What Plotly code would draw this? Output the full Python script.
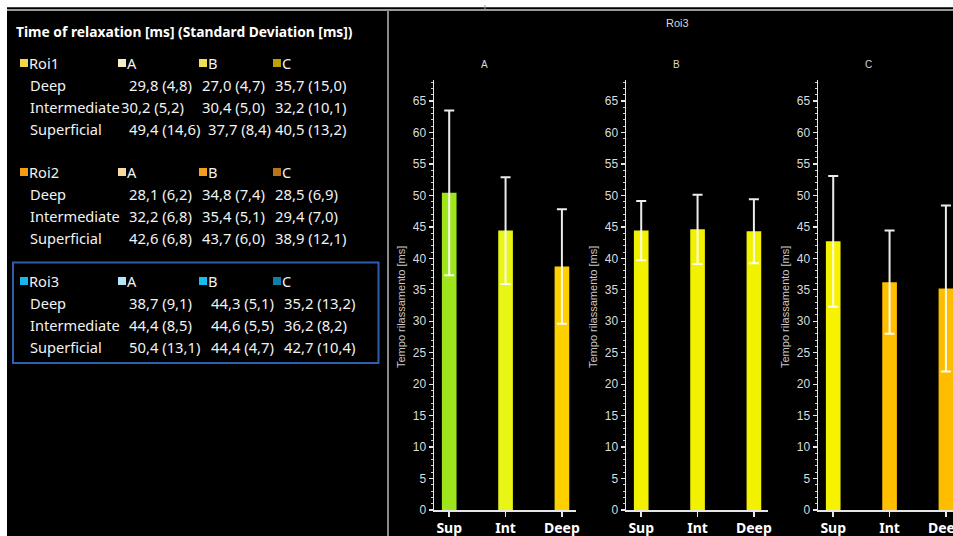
import plotly.graph_objects as go

# ---------------- data ----------------
rois = ["Roi1", "Roi2", "Roi3"]
groups = ["A", "B", "C"]
layers = ["Deep", "Intermediate", "Superficial"]

roi1_mean = [[29.8, 27.0, 35.7], [30.2, 30.4, 32.2], [49.4, 37.7, 40.5]]
roi1_sd = [[4.8, 4.7, 15.0], [5.2, 5.0, 10.1], [14.6, 8.4, 13.2]]
roi2_mean = [[28.1, 34.8, 28.5], [32.2, 35.4, 29.4], [42.6, 43.7, 38.9]]
roi2_sd = [[6.2, 7.4, 6.9], [6.8, 5.1, 7.0], [6.8, 6.0, 12.1]]
roi3_mean = [[38.7, 44.3, 35.2], [44.4, 44.6, 36.2], [50.4, 44.4, 42.7]]
roi3_sd = [[9.1, 5.1, 13.2], [8.5, 5.5, 8.2], [13.1, 4.7, 10.4]]

bar_categories = ["Sup", "Int", "Deep"]
bar_layers = ["Superficial", "Intermediate", "Deep"]
y_tick_values = [0, 5, 10, 15, 20, 25, 30, 35, 40, 45, 50, 55, 60, 65]

panel_title = "Time of relaxation [ms] (Standard Deviation [ms])"
chart_title = "Roi3"
y_title = "Tempo rilassamento [ms]"

# ---------------- styles ----------------
W, H = 953, 536
def px(x):
    return x / W
def py(y):
    return 1 - y / H

roi_colors = {"Roi1": "#f2d64b", "Roi2": "#f59b14", "Roi3": "#14b9ea"}
group_colors = {
    "Roi1": ["#f3eec4", "#f3df54", "#b9a106"],
    "Roi2": ["#f7dba3", "#f49d1f", "#b7741a"],
    "Roi3": ["#b3e6f6", "#12bff0", "#127fa6"],
}
bar_colors = {
    "A": ["#9fe51c", "#e9f514", "#ffd000"],
    "B": ["#f2f200", "#f2f200", "#f2f200"],
    "C": ["#f7f200", "#ffbf00", "#ffbd00"],
}

means = {"Roi1": roi1_mean, "Roi2": roi2_mean, "Roi3": roi3_mean}
sds = {"Roi1": roi1_sd, "Roi2": roi2_sd, "Roi3": roi3_sd}

def fmt(v):
    return f"{v:.1f}".replace(".", ",")

fig = go.Figure()
shapes = []
annotations = []

# ---------------- frame ----------------
shapes.append(dict(type="rect", xref="paper", yref="paper", x0=0, x1=1, y0=py(7), y1=1,
                   fillcolor="white", line_width=0, layer="above"))
shapes.append(dict(type="rect", xref="paper", yref="paper", x0=0, x1=px(7), y0=0, y1=1,
                   fillcolor="white", line_width=0, layer="above"))
shapes.append(dict(type="line", xref="paper", yref="paper", x0=px(7), x1=1, y0=py(7.5), y1=py(7.5),
                   line=dict(color="#404040", width=1)))
shapes.append(dict(type="line", xref="paper", yref="paper", x0=px(7), x1=1, y0=py(10), y1=py(10),
                   line=dict(color="#9a9a9a", width=2)))
shapes.append(dict(type="line", xref="paper", yref="paper", x0=px(388), x1=px(388), y0=0, y1=py(10),
                   line=dict(color="#8a8a8a", width=2)))
shapes.append(dict(type="line", xref="paper", yref="paper", x0=px(485), x1=px(485), y0=py(5), y1=py(10),
                   line=dict(color="#9a9a9a", width=1)))

# ---------------- left text panel ----------------
txt_font = dict(family="Noto Sans", size=14.6, color="#f2f2f2")
num_font = dict(family="Noto Sans", size=14.8, color="#f2f2f2")
annotations.append(dict(text=f"<b>{panel_title}</b>", x=px(14), y=py(31), xref="paper", yref="paper",
                        xanchor="left", yanchor="middle", showarrow=False,
                        font=dict(family="Noto Sans", size=13.8, color="#ffffff")))

block_header_y = {"Roi1": 63, "Roi2": 172, "Roi3": 281}
row_step = 22.3
header_sq_x = [118, 199, 273]
value_x = {
    "Roi1": [[128, 201, 274], [120, 201, 274], [128, 207, 274]],
    "Roi2": [[128, 201, 274], [128, 201, 274], [128, 201, 274]],
    "Roi3": [[128, 210, 283], [128, 210, 283], [128, 210, 283]],
}
sq = 8
for roi in rois:
    hy = block_header_y[roi]
    shapes.append(dict(type="rect", xref="paper", yref="paper", x0=px(20), x1=px(20 + sq),
                       y0=py(hy + sq / 2), y1=py(hy - sq / 2), fillcolor=roi_colors[roi], line_width=0))
    annotations.append(dict(text=roi, x=px(26.5), y=py(hy), xref="paper", yref="paper",
                            xanchor="left", yanchor="middle", showarrow=False, font=txt_font))
    for gi, g in enumerate(groups):
        sx = header_sq_x[gi]
        shapes.append(dict(type="rect", xref="paper", yref="paper", x0=px(sx), x1=px(sx + sq),
                           y0=py(hy + sq / 2), y1=py(hy - sq / 2), fillcolor=group_colors[roi][gi], line_width=0))
        annotations.append(dict(text=g, x=px(sx + sq - 1.5), y=py(hy), xref="paper", yref="paper",
                                xanchor="left", yanchor="middle", showarrow=False, font=txt_font))
    for li, layer in enumerate(layers):
        ry = hy + 21.5 + li * row_step
        annotations.append(dict(text=layer, x=px(28), y=py(ry), xref="paper", yref="paper",
                                xanchor="left", yanchor="middle", showarrow=False, font=txt_font))
        for gi in range(3):
            t = f"{fmt(means[roi][li][gi])} ({fmt(sds[roi][li][gi])})"
            annotations.append(dict(text=t, x=px(value_x[roi][li][gi] - 1.5), y=py(ry), xref="paper",
                                    yref="paper", xanchor="left", yanchor="middle", showarrow=False,
                                    font=num_font))

# selection box around Roi3
shapes.append(dict(type="rect", xref="paper", yref="paper", x0=px(13), x1=px(378.5),
                   y0=py(363), y1=py(262.5), line=dict(color="#2d5fae", width=2), fillcolor="rgba(0,0,0,0)"))

# ---------------- bar charts ----------------
axis_left = {"A": 434, "B": 626, "C": 818}
axis_span = 142
y_top, y_zero = 80, 510
unit = (y_zero - 101) / 65.0
y_max = (y_zero - y_top) / unit
x_lo, x_hi = -0.27, 2.25
unit_x = axis_span / (x_hi - x_lo)

for gi, g in enumerate(groups):
    idx = gi + 1
    xa = "x" if idx == 1 else f"x{idx}"
    ya = "y" if idx == 1 else f"y{idx}"
    vals = [roi3_mean[layers.index(l)][gi] for l in bar_layers]
    errs = [roi3_sd[layers.index(l)][gi] for l in bar_layers]
    fig.add_trace(go.Bar(
        x=bar_categories, y=vals, xaxis=xa, yaxis=ya, width=0.26,
        marker=dict(color=bar_colors[g], line_width=0),
        error_y=dict(type="data", array=errs, visible=True, color="rgba(255,255,255,0.92)",
                     thickness=2, width=5),
        showlegend=False, hoverinfo="skip",
    ))
    left = axis_left[g]
    right_px = left + axis_span
    hi = x_hi
    if right_px > W:
        hi = x_lo + (W - left) / unit_x
        right_px = W
    xkey = "xaxis" if idx == 1 else f"xaxis{idx}"
    ykey = "yaxis" if idx == 1 else f"yaxis{idx}"
    fig.layout[xkey] = dict(
        domain=[px(left), px(right_px)], anchor=ya, range=[x_lo, hi], type="category",
        showline=True, linecolor="#e6e6e6", linewidth=1.5, ticks="outside", ticklen=5,
        tickcolor="#e6e6e6", tickwidth=1.5, showgrid=False, zeroline=False, automargin=False,
        tickfont=dict(family="Noto Sans", size=14, color="#ffffff", weight="bold"),
        fixedrange=True,
    )
    fig.layout[ykey] = dict(
        domain=[py(y_zero), py(y_top)], anchor=xa, range=[0, y_max],
        tickvals=y_tick_values, ticks="outside", ticklen=4, tickcolor="#e6e6e6", tickwidth=1.3,
        minor=dict(dtick=1, ticks="outside", ticklen=2, tickcolor="#cfcfcf", tickwidth=1),
        showline=True, linecolor="#e6e6e6", linewidth=1.5, showgrid=False, zeroline=False,
        automargin=False,
        tickfont=dict(family="Liberation Sans", size=12, color="#dcdcdc"),
        fixedrange=True,
    )
    annotations.append(dict(text=g, x=px(left + 50), y=py(64), xref="paper", yref="paper",
                            xanchor="center", yanchor="middle", showarrow=False,
                            font=dict(family="Liberation Sans", size=10, color="#d8d8d8")))
    annotations.append(dict(text=y_title, x=px(left - 33), y=py((y_top + y_zero) / 2 + 12),
                            xref="paper", yref="paper", textangle=-90, xanchor="center",
                            yanchor="middle", showarrow=False,
                            font=dict(family="Liberation Sans", size=11, color="#c8c8c8")))

annotations.append(dict(text=chart_title, x=px(677), y=py(23), xref="paper", yref="paper",
                        xanchor="center", yanchor="middle", showarrow=False,
                        font=dict(family="Liberation Sans", size=11, color="#d8d8d8")))

fig.update_layout(
    width=W, height=H, margin=dict(l=0, r=0, t=0, b=0, pad=0, autoexpand=False),
    paper_bgcolor="#000000", plot_bgcolor="rgba(0,0,0,0)",
    shapes=shapes, annotations=annotations, bargap=0.5,
)

fig.write_html(
    "out.html",
    config={"displayModeBar": False, "staticPlot": True},
    post_script="document.body.style.margin='0';document.body.style.padding='0';"
                "document.body.style.overflow='hidden';document.documentElement.style.overflow='hidden';",
)
